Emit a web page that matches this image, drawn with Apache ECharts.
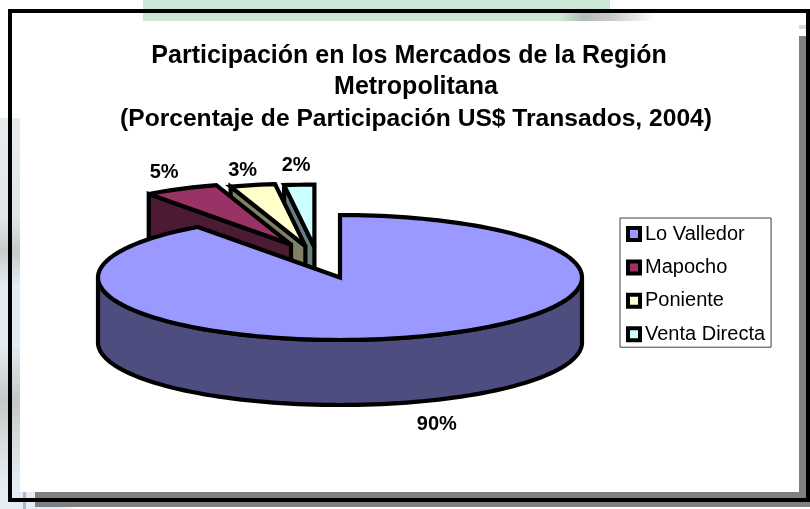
<!DOCTYPE html>
<html><head><meta charset="utf-8">
<style>html,body{margin:0;padding:0;background:#fff}#c{width:810px;height:509px}</style>
<script src="https://cdn.jsdelivr.net/npm/echarts@6/dist/echarts.min.js"></script>
</head><body><div id="c"></div>
<script>
const categories = ['Lo Valledor', 'Mapocho', 'Poniente', 'Venta Directa'];
const values = [90, 5, 3, 2];
const titleLines = ['Participación en los Mercados de la Región', 'Metropolitana', '(Porcentaje de Participación US$ Transados, 2004)'];

const topColors = ['#9999ff', '#993366', '#ffffcc', '#ccffff'];
const sideColors = ['#4d4d80', '#4d1a33', '#808066', '#668080'];
const labelShift = [[22, 23], [-17, -16], [-10, -15], [-3, -19]];
const CX = 340, CY = 277.5, RX = 242, RY = 62.5, DEPTH = 65, STROKE = 4.2;
const total = values.reduce((a, b) => a + b, 0);
const starts = []; values.reduce((acc, v, i) => { starts[i] = acc; return acc + v; }, 0);

function pt(cx, cy, deg) {
  const a = deg * Math.PI / 180;
  return [cx + RX * Math.sin(a), cy - RY * Math.cos(a)];
}
function arc(cx, cy, from, to) {
  const n = Math.max(2, Math.ceil(Math.abs(to - from) / 2)), out = [];
  for (let i = 0; i <= n; i++) out.push(pt(cx, cy, from + (to - from) * i / n));
  return out;
}
function renderSlice(params, api) {
  const i = drawOrder[params.seriesIndex];
  const v = api.value(0);
  const from = starts[i] / total * 360, to = from + v / total * 360;
  const stroke = { stroke: '#000', lineWidth: STROKE, lineJoin: 'miter', miterLimit: 3 };
  const kids = [];
  const poly = (points, fill) => kids.push({ type: 'polygon', shape: { points }, style: Object.assign({ fill }, stroke) });
  let cx = CX, cy = CY;
  if (i === 0) {
    const side = arc(cx, cy, 90, 270);
    poly(side.concat(side.slice().reverse().map(p => [p[0], p[1] + DEPTH])), sideColors[i]);
  } else {
    const theta = 360 - (from + to) / 2;
    cx += -(22 + theta); cy += -(30 + theta * 0.11);
    const left = pt(cx, cy, from);
    poly([[cx, cy], left, [left[0], left[1] + DEPTH], [cx, cy + DEPTH]], sideColors[i]);
  }
  poly([[cx, cy]].concat(arc(cx, cy, from, to)), topColors[i]);
  const mid = (from + to) / 2;
  const m = pt(cx, cy, mid);
  const ly = m[1] + (i === 0 ? DEPTH : 0);
  kids.push({ type: 'text', style: {
    x: m[0] + labelShift[i][0], y: ly + labelShift[i][1], text: Math.round(v) + '%',
    fill: '#000', align: 'center', verticalAlign: 'middle',
    font: 'bold 20px "Liberation Sans", Arial, sans-serif' } });
  return { type: 'group', children: kids };
}
const drawOrder = [3, 2, 1, 0];
const chart = echarts.init(document.getElementById('c'), null, { renderer: 'canvas' });
const rect = (x, y, w, h, fill, z) => ({ type: 'rect', shape: { x, y, width: w, height: h }, style: { fill }, z: z || 0, silent: true });
const LG = echarts.graphic.LinearGradient;
const titleFont = { fontFamily: '"Liberation Sans", Arial, sans-serif', fontWeight: 'bold', lineHeight: 31.5, color: '#000' };
chart.setOption({
  animation: false,
  backgroundColor: '#ffffff',
  title: { text: '{a|' + titleLines[0] + '  }\n{a|' + titleLines[1] + '}\n{b|' + titleLines[2] + '}', left: 411, top: 35, textAlign: 'center',
    textStyle: Object.assign({ fontSize: 25, rich: {
      a: Object.assign({ fontSize: 25 }, titleFont),
      b: Object.assign({ fontSize: 24.6 }, titleFont) } }, titleFont) },
  legend: { show: true, orient: 'vertical', left: 620, top: 218, data: categories, icon: 'rect', itemWidth: 12, itemHeight: 12, itemGap: 13.4,
    padding: [6, 6, 3, 6], borderColor: '#404040', borderWidth: 1, backgroundColor: '#fff',
    itemStyle: { borderColor: '#000', borderWidth: 4 },
    textStyle: { fontFamily: '"Liberation Sans", Arial, sans-serif', fontSize: 20, color: '#000', lineHeight: 20 }, selectedMode: false },
  graphic: { elements: [
    rect(0, 0, 810, 509, '#ffffff', 0),
    rect(0, 118, 20, 391, new LG(0, 0, 0, 1, [
      { offset: 0, color: '#e6ecee' }, { offset: 0.25, color: '#dfe6ea' }, { offset: 0.34, color: '#c6cdcc' }, { offset: 0.43, color: '#e3ebf3' },
      { offset: 0.58, color: '#e3ebf3' }, { offset: 0.72, color: '#c2c9c8' }, { offset: 0.82, color: '#d4dcdc' }, { offset: 0.93, color: '#e4ecf4' }, { offset: 1, color: '#e4ecf4' }]), 0),
    rect(143, 0, 467, 21, '#cbe8d6', 0),
    rect(560, 13, 95, 8, new LG(0, 0, 1, 0, [
      { offset: 0, color: '#cbe8d6' }, { offset: 0.25, color: '#b4bcb8' }, { offset: 0.55, color: '#c8ccca' }, { offset: 1, color: '#ffffff' }]), 0),
    rect(20, 492, 60, 17, new LG(0, 0, 1, 0, [{ offset: 0, color: '#e4ecf4' }, { offset: 0.6, color: '#e4ecf4' }, { offset: 1, color: '#ffffff' }]), 0),
    rect(20, 21, 779, 471, '#ffffff', 0),
    rect(23, 492, 3, 17, '#b4b8bc', 0),
    rect(35, 492, 771, 6, '#808080', 1),
    rect(799, 36, 7, 462, '#808080', 1),
    rect(35, 502, 775, 5, '#808080', 1),
    rect(799, 25, 7, 4, '#d8d8d8', 1),
    rect(8, 9, 802, 4, '#000000', 2),
    rect(8, 9, 4, 493, '#000000', 2),
    rect(8, 498, 802, 4, '#000000', 2),
    rect(806, 9, 4, 493, '#000000', 2)
  ] },
  series: drawOrder.map((idx, k) => ({
    type: 'custom', name: categories[idx], coordinateSystem: 'none', z: 5 + k,
    renderItem: renderSlice, data: [[values[idx]]], itemStyle: { color: topColors[idx] }, silent: true
  }))
});
</script></body></html>
